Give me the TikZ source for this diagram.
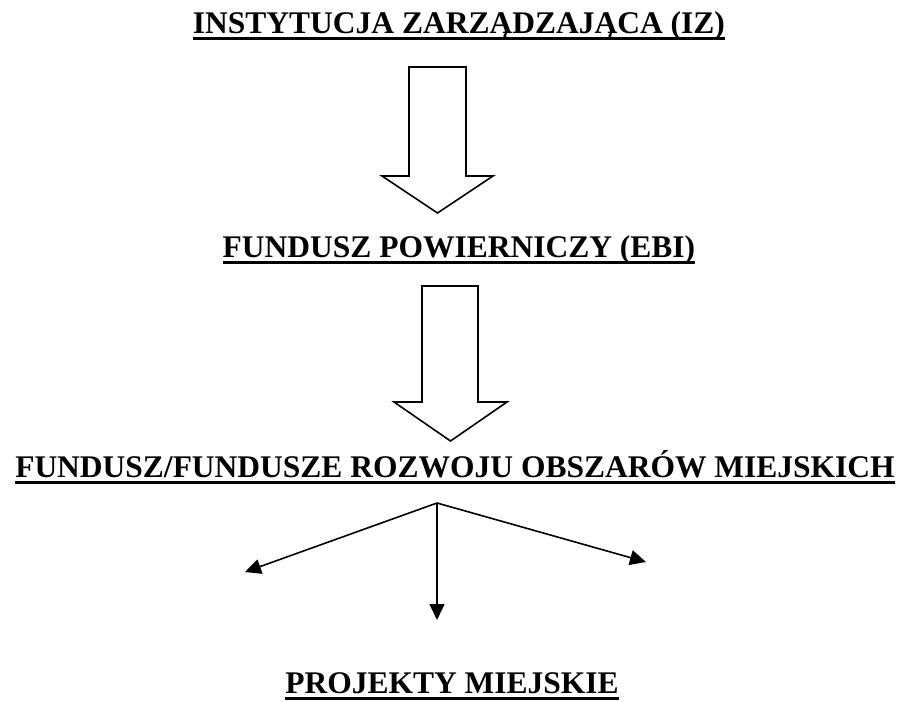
\documentclass[tikz,border=0pt]{standalone}
\usepackage{fontspec}
\setmainfont{Liberation Serif}
\usepackage{tikz}
\usetikzlibrary{arrows.meta}
\tikzset{
    title/.style = {inner sep=0pt, anchor=base, font=\fontsize{31.5}{36}\selectfont\bfseries},
    uline/.style = {line width=3pt},
    fatarrow/.style = {line width=1.6pt, line join=miter, fill=white},
    arrow/.style = {line width=1.6pt, -{Triangle[length=16pt,width=15pt]}}
}

\begin{document}
\begin{tikzpicture}[x=1pt, y=-1pt]
\useasboundingbox (0,0) rectangle (906,702);
\node (iz) [title] at (459,33) {INSTYTUCJA ZARZĄDZAJĄCA (IZ)};
\node (ebi) [title] at (459,257) {FUNDUSZ POWIERNICZY (EBI)};
\node (fund) [title] at (455,477) {FUNDUSZ/FUNDUSZE ROZWOJU OBSZARÓW MIEJSKICH};
\node (proj) [title] at (452,693) {PROJEKTY MIEJSKIE};

\foreach \t in {iz,ebi,fund,proj}
    \draw [uline] ([yshift=-5.5pt]\t.base west) -- ([yshift=-5.5pt]\t.base east);

% block arrows
\draw [fatarrow] (409,67) -- (466,67) -- (466,176) -- (493,176) -- (437.5,213)
    -- (382,176) -- (409,176) -- cycle;
\draw [fatarrow] (422,286) -- (478,286) -- (478,402) -- (507,402) -- (450.5,441)
    -- (394,402) -- (422,402) -- cycle;

% split into projects
\coordinate (split) at (437,503);
\coordinate (pl) at (245,572);
\coordinate (pm) at (437,620);
\coordinate (pr) at (646,562);
\draw [arrow] (split) -- (pl);
\draw [arrow] (split) -- (pm);
\draw [arrow] (split) -- (pr);
\end{tikzpicture}
\end{document}
